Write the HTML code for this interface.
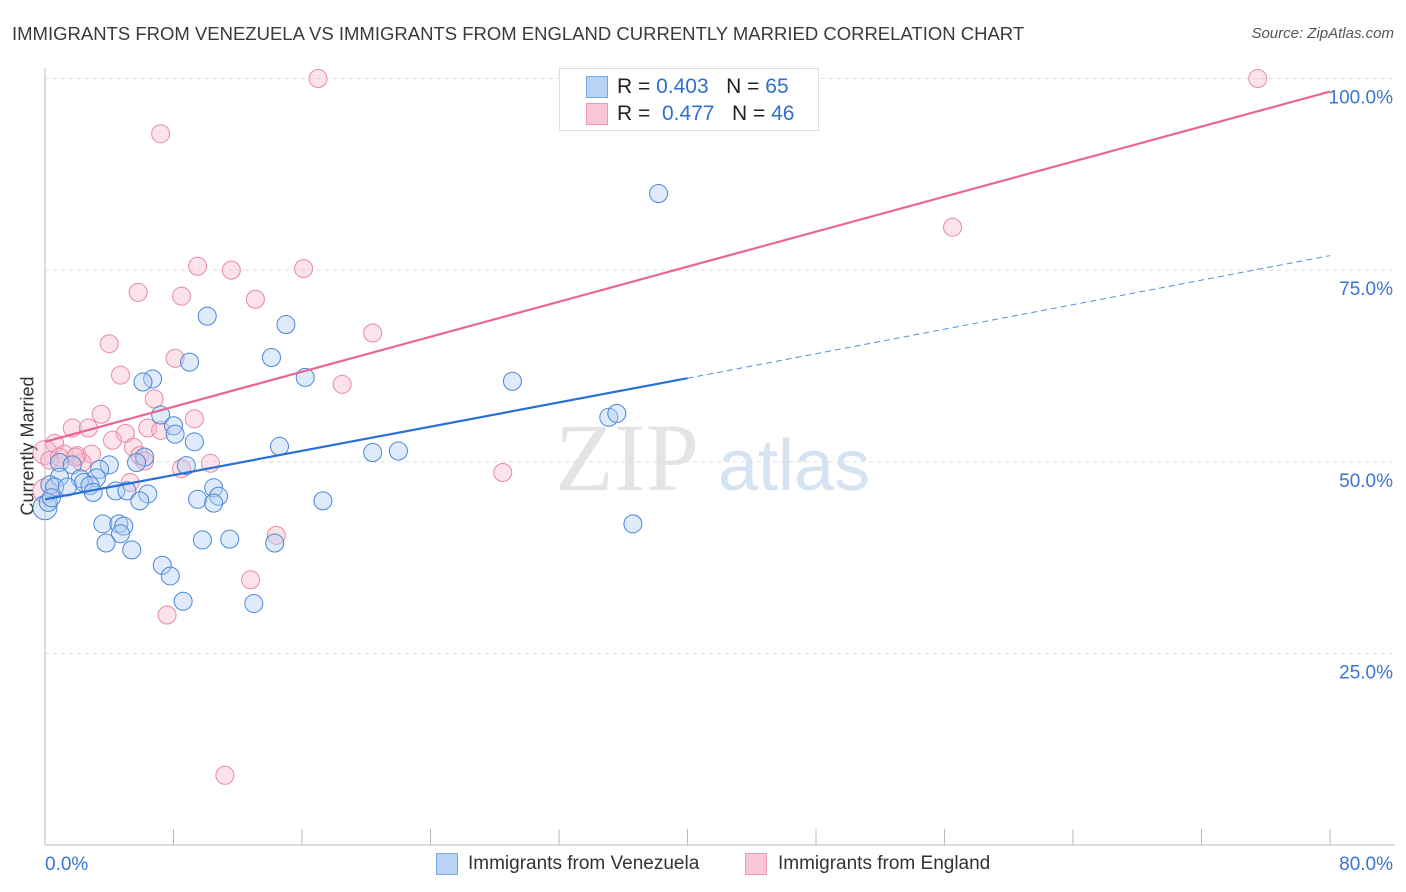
<!DOCTYPE html>
<html><head><meta charset="utf-8">
<style>
body{margin:0;background:#fff;font-family:"Liberation Sans",sans-serif;}
#wrap{position:relative;width:1406px;height:892px;overflow:hidden;}
.t{position:absolute;white-space:nowrap;}
</style></head>
<body>
<div id="wrap">
<div class="t" style="left:12px;top:23px;font-size:18.5px;color:#3a3a3a;">IMMIGRANTS FROM VENEZUELA VS IMMIGRANTS FROM ENGLAND CURRENTLY MARRIED CORRELATION CHART</div>
<div class="t" style="right:12px;top:25px;font-size:15px;color:#555;font-style:italic;">Source: ZipAtlas.com</div>
<div class="t" style="left:-32px;top:445px;font-size:18px;color:#333;transform:rotate(-90deg);transform-origin:center;width:120px;text-align:center;">Currently Married</div>
<svg id="plot" width="1406" height="892" style="position:absolute;left:0;top:0">
<text x="555" y="490" font-family="Liberation Serif" font-size="96" fill="#e4e4e4">ZIP</text>
<text x="718" y="490" font-family="Liberation Sans" font-size="72" fill="#d5e3f3">atlas</text>
</svg>
<div style="position:absolute;left:559px;top:68px;width:258px;height:61px;border:1px solid #ddd;background:#fff;">
<div style="position:absolute;left:26px;top:7px;width:20px;height:20px;background:#b8d3f5;border:1px solid #7aa8e6;"></div>
<div class="t" style="left:57px;top:6px;font-size:21px;color:#222;">R = <span style="color:#2f6fd0">0.403</span>&nbsp;&nbsp;&nbsp;N = <span style="color:#2f6fd0">65</span></div>
<div style="position:absolute;left:26px;top:34px;width:20px;height:20px;background:#f9c6d5;border:1px solid #ec9ab2;"></div>
<div class="t" style="left:57px;top:33px;font-size:21px;color:#222;">R =&nbsp; <span style="color:#2f6fd0">0.477</span>&nbsp;&nbsp;&nbsp;N = <span style="color:#2f6fd0">46</span></div>
</div>
<div>
<div style="position:absolute;left:436px;top:853px;width:20px;height:20px;background:#b8d3f5;border:1px solid #7aa8e6;"></div>
<div class="t" style="left:468px;top:853px;font-size:19px;color:#333;">Immigrants from Venezuela</div>
<div style="position:absolute;left:745px;top:853px;width:20px;height:20px;background:#f9c6d5;border:1px solid #ec9ab2;"></div>
<div class="t" style="left:778px;top:853px;font-size:19px;color:#333;">Immigrants from England</div>
</div>
</div>
<script>
const yTicks=[25,50,75,100];
const yTickLabels=["25.0%","50.0%","75.0%","100.0%"];
const xTickLabels=["0.0%","80.0%"];
const blueX=[38.2,10.1,15.0,14.1,16.2,9.0,29.1,6.7,6.1,7.2,8.0,8.1,9.3,35.1,35.6,14.6,20.4,22.0,6.2,5.7,8.8,4.0,0.9,1.7,3.4,3.2,2.2,2.4,2.8,0.9,0.3,0.6,1.4,3.0,4.4,5.1,6.4,5.9,10.5,10.8,9.5,10.5,17.3,3.6,4.6,4.9,4.7,36.6,3.8,5.4,9.8,11.5,14.3,7.3,7.8,8.6,13.0,0.0,0.2,0.4];
const blueY=[85.0,69.0,67.9,63.6,61.0,63.0,60.5,60.8,60.4,56.1,54.7,53.6,52.6,55.8,56.3,52.0,51.2,51.4,50.6,49.9,49.5,49.6,49.9,49.6,49.0,47.9,47.8,47.3,46.9,48.0,47.0,46.7,46.7,46.0,46.2,46.2,45.8,44.9,46.6,45.5,45.1,44.6,44.9,41.9,41.9,41.6,40.6,41.9,39.4,38.5,39.8,39.9,39.4,36.5,35.1,31.8,31.5,44.0,44.7,45.3];
const pinkX=[17.0,75.5,7.2,56.5,9.5,11.6,16.1,5.8,8.5,13.1,20.4,4.0,8.1,4.7,18.5,6.8,3.5,9.3,1.7,2.7,6.4,7.2,0.6,5.0,4.2,5.5,1.2,2.0,2.9,5.9,6.2,8.5,10.3,2.3,28.5,5.3,14.4,12.8,7.6,11.2,0.0,0.3,0.0,0.9,1.9];
const pinkY=[100,100,92.8,80.6,75.5,75.0,75.2,72.1,71.6,71.2,66.8,65.4,63.5,61.3,60.1,58.2,56.2,55.6,54.4,54.4,54.4,54.1,52.4,53.7,52.8,51.9,51.0,50.8,51.0,50.8,50.1,49.1,49.8,49.9,48.6,47.3,40.4,34.6,30.0,9.1,51.2,50.2,46.2,50.6,50.6];
const blueFit=[[0,45.1],[40,60.9]], blueDash=[[40,60.9],[80,76.9]];
const pinkFit=[[0,52.6],[80,98.3]];

const svg=document.getElementById('plot');const NS='http://www.w3.org/2000/svg';
const X0=45,X1=1330,Y0=845,Y100=78.5;
const sx=v=>X0+(v/80)*(X1-X0);
const sy=v=>Y0-(v/100)*(Y0-Y100);
function mk(tag,attrs){const e=document.createElementNS(NS,tag);for(const k in attrs)e.setAttribute(k,attrs[k]);svg.appendChild(e);return e;}
yTicks.forEach((t,i)=>{
 const g=mk('line',{x1:X0,x2:1395,y1:sy(t),y2:sy(t),stroke:'#ddd','stroke-dasharray':'4,4'});
 
 
 const tx=mk('text',{x:1393,y:sy(t)+25,'text-anchor':'end','font-size':19,fill:'#3a75d0','font-family':'Liberation Sans'});
 tx.textContent=yTickLabels[i];
 
 
});
const ax=mk('line',{x1:X0,x2:X0,y1:68,y2:Y0,stroke:'#bbb'});


const bx=mk('line',{x1:X0,x2:1395,y1:Y0,y2:Y0,stroke:'#bbb'});


for(let i=0;i<=10;i++){const v=i*8;const tk=mk('line',{x1:sx(v),x2:sx(v),y1:Y0,y2:Y0-16,stroke:'#bbb'});
 
 }
[[0,'start',45],[80,'end',1393]].forEach((d,i)=>{const t=mk('text',{x:d[2],y:870,'text-anchor':d[1],'font-size':19,fill:'#3a75d0','font-family':'Liberation Sans'});t.textContent=xTickLabels[i];
 
 });
function dots(xs,ys,fill,stroke,name){xs.forEach((x,i)=>{const big=x<0.2?12:9;const c=mk('circle',{cx:sx(x),cy:sy(ys[i]),r:big,fill:fill,'fill-opacity':0.4,stroke:stroke,'stroke-width':1});
 
 });}
dots(pinkX,pinkY,'#f7b6c9','#e88aa6','england-point');
dots(blueX,blueY,'#b0cdf2','#4a86d8','venezuela-point');
const bl=mk('line',{x1:sx(blueFit[0][0]),y1:sy(blueFit[0][1]),x2:sx(blueFit[1][0]),y2:sy(blueFit[1][1]),stroke:'#2a6fd6','stroke-width':2.2});


const bd=mk('line',{x1:sx(blueDash[0][0]),y1:sy(blueDash[0][1]),x2:sx(blueDash[1][0]),y2:sy(blueDash[1][1]),stroke:'#5a8fd8','stroke-width':1,'stroke-dasharray':'6,4'});


const pl=mk('line',{x1:sx(pinkFit[0][0]),y1:sy(pinkFit[0][1]),x2:sx(pinkFit[1][0]),y2:sy(pinkFit[1][1]),stroke:'#e8678f','stroke-width':2.2});


</script>
</body></html>
